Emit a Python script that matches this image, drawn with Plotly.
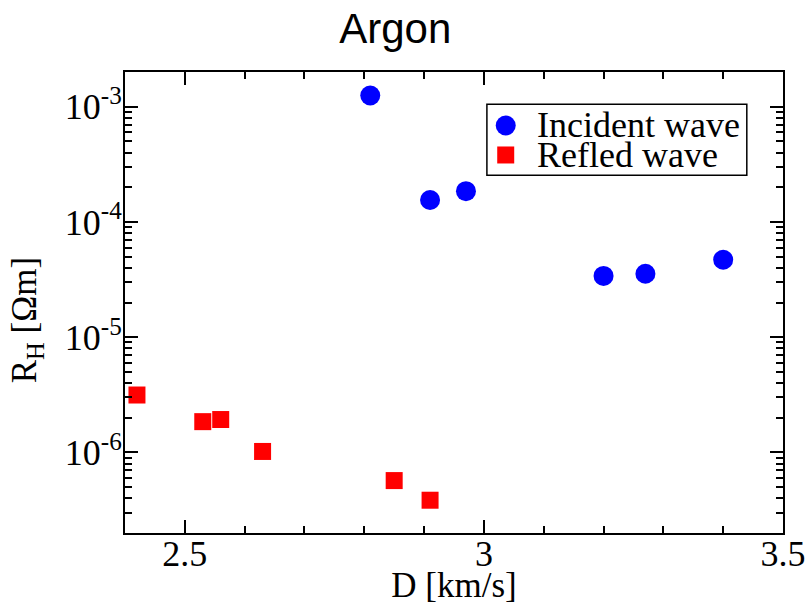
import math
import plotly.graph_objects as go

# ---- data ----
incident_D = [2.81, 2.91, 2.97, 3.20, 3.27, 3.40]
incident_RH = [1.25e-3, 1.55e-4, 1.85e-4, 3.4e-5, 3.55e-5, 4.7e-5]
reflected_D = [2.42, 2.53, 2.56, 2.63, 2.85, 2.91]
reflected_RH = [3.15e-6, 1.85e-6, 1.93e-6, 1.02e-6, 5.7e-7, 3.85e-7]

x_ticks = [2.5, 3.0, 3.5]
x_tick_labels = ["2.5", "3", "3.5"]
y_ticks = [1e-6, 1e-5, 1e-4, 1e-3]
y_tick_labels = ["10<sup>-6</sup>", "10<sup>-5</sup>", "10<sup>-4</sup>", "10<sup>-3</sup>"]
legend_labels = ["Incident wave", "Refled wave"]
series_colors = ["#0000ff", "#ff0000"]
series_symbols = ["circle", "square"]
series_sizes = [20, 17]

SERIF = "Liberation Serif"
SANS = "Liberation Sans"
FS = 36

X_RANGE = [2.4, 3.5]
Y_RANGE = [math.log10(2e-7), math.log10(2e-3)]
y_minor = [m * 10.0 ** e for e in range(-7, -2) for m in range(2, 10)]

fig = go.Figure()
fig.add_trace(go.Scatter(x=incident_D, y=incident_RH, mode="markers", name=legend_labels[0],
                         marker=dict(symbol=series_symbols[0], size=series_sizes[0], color=series_colors[0]),
                         showlegend=False))
fig.add_trace(go.Scatter(x=reflected_D, y=reflected_RH, mode="markers", name=legend_labels[1],
                         marker=dict(symbol=series_symbols[1], size=series_sizes[1], color=series_colors[1]),
                         showlegend=False))

# ---- custom legend: box, keys (pixel-sized shapes) and labels ----
leg_x0, leg_x1, leg_y0, leg_y1 = 0.550, 0.945, 0.776, 0.930
key_x = 0.5786
row_y = [0.884, 0.820]
text_x = 0.6227
fig.add_shape(type="rect", xref="paper", yref="paper", x0=leg_x0, x1=leg_x1, y0=leg_y0, y1=leg_y1,
              line=dict(color="black", width=1.5), layer="below")
for i in range(2):
    half = series_sizes[i] / 2
    fig.add_shape(type="circle" if series_symbols[i] == "circle" else "rect",
                  xref="paper", yref="paper", xsizemode="pixel", ysizemode="pixel",
                  xanchor=key_x, yanchor=row_y[i], x0=-half, x1=half, y0=-half, y1=half,
                  fillcolor=series_colors[i], line=dict(width=0), layer="above")
    fig.add_annotation(x=text_x, y=row_y[i], xref="paper", yref="paper", text=legend_labels[i],
                       showarrow=False, xanchor="left", yanchor="middle",
                       font=dict(family=SERIF, size=36, color="black"))

# y-axis title placed as a rotated annotation (sits a little below centre in the reference)
fig.add_annotation(x=-0.150, y=0.462, xref="paper", yref="paper", text="R<sub>H</sub> [Ωm]",
                   textangle=-90, showarrow=False, xanchor="center", yanchor="middle",
                   font=dict(family=SERIF, size=35, color="black"))

axis_common = dict(
    ticks="inside", ticklen=13, tickwidth=2, tickcolor="black",
    showline=True, linewidth=2, linecolor="black", mirror="ticks",
    showgrid=False, zeroline=False, automargin=False, layer="above traces",
    ticklabeloverflow="allow",
    tickfont=dict(family=SERIF, size=FS, color="black"),
)
minor_common = dict(ticks="inside", ticklen=7, tickwidth=1.5, tickcolor="black", showgrid=False)

fig.update_layout(
    width=805, height=605, autosize=False,
    margin=dict(l=125, r=22, t=72, b=72),
    paper_bgcolor="white", plot_bgcolor="white",
    showlegend=False,
    title=dict(text="Argon", x=0.491, xanchor="center", xref="container",
               y=0.953, yanchor="middle", yref="container",
               font=dict(family=SANS, size=42, color="black")),
    xaxis=dict(range=X_RANGE, tickmode="array", tickvals=x_ticks, ticktext=x_tick_labels,
               ticklabelstandoff=-12,
               minor=dict(tickmode="linear", tick0=2.4, dtick=0.1, **minor_common),
               title=dict(text="D [km/s]", font=dict(family=SERIF, size=35, color="black"), standoff=0),
               **axis_common),
    yaxis=dict(type="log", range=Y_RANGE,
               tickmode="array", tickvals=y_ticks, ticktext=y_tick_labels,
               ticklabelstandoff=-6,
               minor=dict(tickmode="array", tickvals=y_minor, **minor_common),
               **axis_common),
)

fig.write_html("out.html")
